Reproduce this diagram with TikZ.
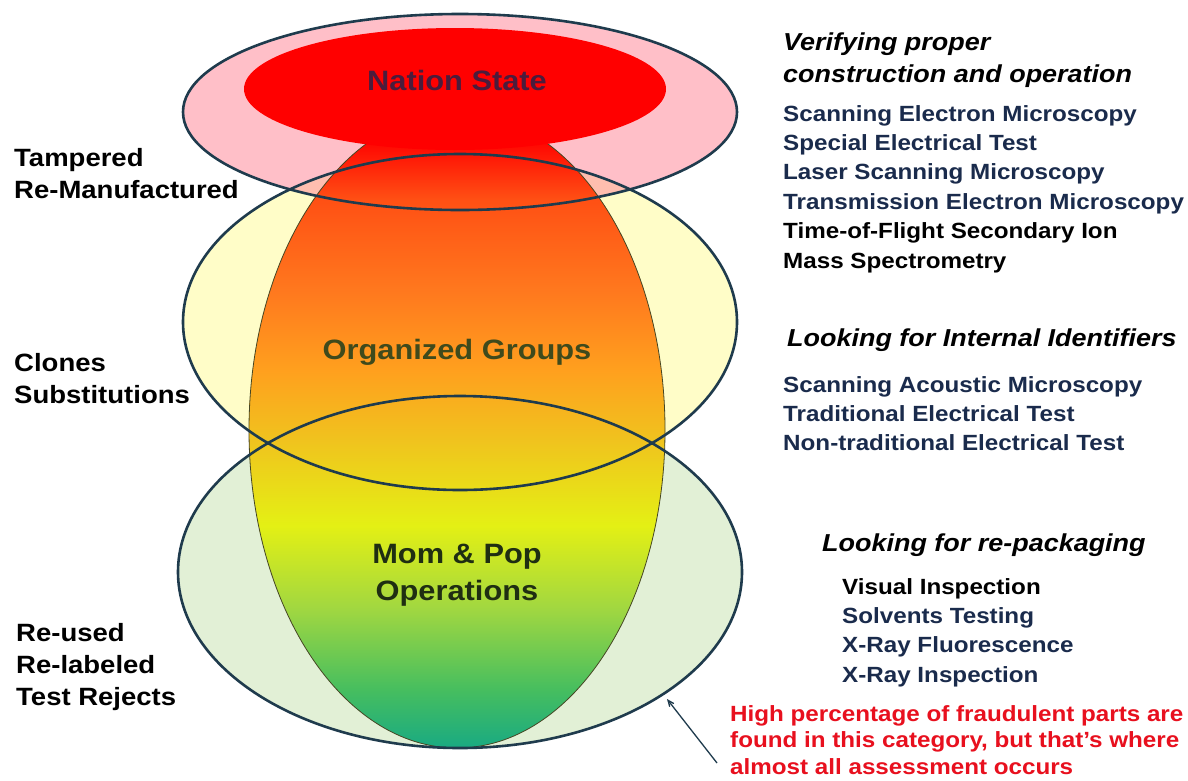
\documentclass[tikz,border=0pt]{standalone}
\usepackage{fontspec}
\setmainfont{Liberation Sans}[FakeStretch=1.1]
\usetikzlibrary{arrows}

\definecolor{rimline}   {RGB}{31,59,77}
\definecolor{eggline}   {RGB}{70,70,35}
\definecolor{pinkfill}  {RGB}{255,140,155}
\definecolor{yellowfill}{RGB}{255,253,200}
\definecolor{greenfill} {RGB}{226,240,214}
\definecolor{techblue}  {RGB}{26,43,76}
\definecolor{notered}   {RGB}{232,16,30}
\definecolor{nsink}     {RGB}{75,28,60}
\definecolor{ogink}     {RGB}{63,74,28}
\definecolor{mpink}     {RGB}{31,46,18}

% egg colours, bottom to top
\definecolor{eggA}{RGB}{25,170,130}
\definecolor{eggB}{RGB}{70,190,95}
\definecolor{eggC}{RGB}{160,215,65}
\definecolor{eggD}{RGB}{228,240,20}
\definecolor{eggE}{RGB}{240,195,30}
\definecolor{eggF}{RGB}{255,160,30}
\definecolor{eggG}{RGB}{255,120,30}
\definecolor{eggH}{RGB}{255,80,20}
\pgfdeclareverticalshading{eggfade}{100bp}{color(0bp)=(eggA); color(25bp)=(eggA);
  color(29.6bp)=(eggB); color(35.9bp)=(eggC); color(42.5bp)=(eggD);
  color(49.2bp)=(eggE); color(54.7bp)=(eggF); color(61bp)=(eggG);
  color(68.1bp)=(eggH); color(73bp)=(red); color(100bp)=(red)}

\begin{document}
\begin{tikzpicture}
    [
        x=1pt, y=-1pt,
        rim/.style  ={draw=rimline, line width=2.6pt},
        side/.style ={anchor=north west, align=left, inner sep=0pt,
                      font=\fontsize{25}{32}\selectfont\bfseries},
        head/.style ={anchor=north west, align=left, inner sep=0pt,
                      font=\fontsize{24.5}{32}\selectfont\bfseries\itshape},
        tech/.style ={anchor=north west, align=left, inner sep=0pt, text=techblue,
                      font=\fontsize{22}{29.4}\selectfont\bfseries},
        tier/.style ={align=center, inner sep=0pt,
                      font=\fontsize{28}{37}\selectfont\bfseries},
        note/.style ={anchor=north west, align=left, inner sep=0pt, text=notered,
                      font=\fontsize{22}{26.5}\selectfont\bfseries},
        oarc/.style ={->, >=angle 45, line width=1.3pt, draw=rimline}
    ]

    \useasboundingbox (0,0) rectangle (1188,780);
    \fill[white] (0,0) rectangle (1188,780);

    \coordinate (ns)  at (460,112);
    \coordinate (nc)  at (455,89);
    \coordinate (og)  at (460,322);
    \coordinate (mp)  at (460,572);
    \coordinate (egg) at (457,430);

    % fills
    \fill[greenfill]  (mp) ellipse [x radius=282pt, y radius=176pt];
    \fill[yellowfill] (og) ellipse [x radius=277pt, y radius=168pt];
    \fill[pinkfill, fill opacity=0.55] (ns) ellipse [x radius=277pt, y radius=98pt];
    \shade[shading=eggfade, draw=eggline, line width=0.8pt]
        (egg) ellipse [x radius=208pt, y radius=318pt];
    \fill[red] (nc) ellipse [x radius=211pt, y radius=61pt];

    % rims
    \draw[rim] (mp) ellipse [x radius=282pt, y radius=176pt];
    \draw[rim] (og) ellipse [x radius=277pt, y radius=168pt];
    \draw[rim] (ns) ellipse [x radius=277pt, y radius=98pt];

    % tiers
    \node[tier, text=nsink] (nation) at (457,80)  {Nation State};
    \node[tier, text=ogink] (groups) at (457,352) {Organized Groups};
    \node[tier, text=mpink] (mompop) at (457,575) {Mom \& Pop\\Operations};

    % kinds of fakes
    \node[side] (tamp)  at (14,148) {Tampered\\Re-Manufactured};
    \node[side] (clone) at (14,353) {Clones\\Substitutions};
    \node[side] (reuse) at (16,623) {Re-used\\Re-labeled\\Test Rejects};

    % checks
    \node[head] (h1) at (783,33) {Verifying proper\\construction and operation};
    \node[tech] (t1) at (783,105) {Scanning Electron Microscopy\\Special Electrical Test\\
        Laser Scanning Microscopy\\Transmission Electron Microscopy\\
        \textcolor{black}{Time-of-Flight Secondary Ion}\\\textcolor{black}{Mass Spectrometry}};

    \node[head] (h2) at (787,329) {Looking for Internal Identifiers};
    \node[tech] (t2) at (783,376) {Scanning Acoustic Microscopy\\Traditional Electrical Test\\
        Non-traditional Electrical Test};

    \node[head] (h3) at (822,534) {Looking for re-packaging};
    \node[tech] (t3) at (842,578) {\textcolor{black}{Visual Inspection}\\Solvents Testing\\
        X-Ray Fluorescence\\X-Ray Inspection};

    \node[note] (note) at (730,705) {High percentage of fraudulent parts are\\
        found in this category, but that’s where\\almost all assessment occurs};

    \coordinate (tail) at (717,763);
    \coordinate (hit)  at (667,699);
    \draw[oarc] (tail) to (hit);

\end{tikzpicture}
\end{document}
